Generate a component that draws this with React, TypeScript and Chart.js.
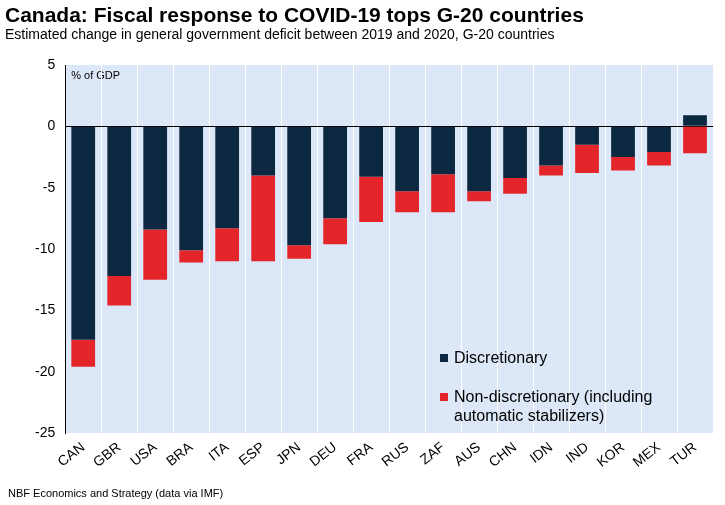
import React, { useEffect, useRef } from "react";
import { Chart, registerables } from "chart.js";
Chart.register(...registerables);

const categories = ["CAN","GBR","USA","BRA","ITA","ESP","JPN","DEU","FRA","RUS","ZAF","AUS","CHN","IDN","IND","KOR","MEX","TUR"];
const discretionary = [-17.4,-12.2,-8.4,-10.1,-8.3,-4.0,-9.7,-7.5,-4.1,-5.3,-3.9,-5.3,-4.2,-3.2,-1.5,-2.5,-2.1,0.9];
const nonDiscretionary = [-2.2,-2.4,-4.1,-1.0,-2.7,-7.0,-1.1,-2.1,-3.7,-1.7,-3.1,-0.8,-1.3,-0.8,-2.3,-1.1,-1.1,-2.2];
const yTicks = [5,0,-5,-10,-15,-20,-25];

const bgPlugin = {
  id: "bg",
  beforeDraw(chart: any) {
    const { ctx, chartArea: a } = chart;
    ctx.save();
    ctx.fillStyle = "#dce7f7";
    ctx.fillRect(a.left, a.top, a.right - a.left, a.bottom - a.top);
    ctx.fillStyle = "#000";
    ctx.font = "11px Arial, 'Liberation Sans'";
    ctx.fillText("% of GDP", a.left + 6, a.top + 14);
    ctx.restore();
  },
};

export default function App() {
  const ref = useRef<HTMLCanvasElement>(null);
  useEffect(() => {
    const chart = new Chart(ref.current!, {
      type: "bar",
      data: {
        labels: categories,
        datasets: [
          { label: "Discretionary", data: discretionary, backgroundColor: "#0c2841", barPercentage: 0.66, categoryPercentage: 1 },
          { label: "Non-discretionary", data: nonDiscretionary, backgroundColor: "#e4262b", barPercentage: 0.66, categoryPercentage: 1 },
        ],
      },
      options: {
        animation: false,
        responsive: false,
        layout: { padding: { top: 65, bottom: 28, right: 12, left: 25 } },
        plugins: { legend: { display: false }, tooltip: { enabled: false } },
        scales: {
          x: {
            stacked: true,
            grid: { display: true, color: "#ffffff", lineWidth: 1, drawTicks: false, offset: true },
            border: { display: false },
            ticks: { color: "#000", font: { size: 14, family: "Arial, 'Liberation Sans'" }, padding: 6 },
          },
          y: {
            stacked: true,
            min: -25, max: 5,
            afterBuildTicks: (ax: any) => { ax.ticks = yTicks.map((v) => ({ value: v })); },
            grid: { color: (c: any) => (c.tick && c.tick.value === 0 ? "#000" : "transparent"), drawTicks: false },
            border: { display: true, color: "#000" },
            ticks: { color: "#000", font: { size: 14, family: "Arial, 'Liberation Sans'" }, padding: 10 },
          },
        },
      },
      plugins: [bgPlugin],
    });
    return () => chart.destroy();
  }, []);
  const font = "Arial, 'Liberation Sans', sans-serif";
  return (
    <div style={{ position: "fixed", left: 0, top: 0, width: 725, height: 505, background: "#fff", fontFamily: font }}>
      <canvas ref={ref} width={725} height={505} style={{ position: "absolute", left: 0, top: 0 }} />
      <div style={{ position: "absolute", left: 5, top: 3, fontSize: 21, fontWeight: "bold" }}>Canada: Fiscal response to COVID-19 tops G-20 countries</div>
      <div style={{ position: "absolute", left: 5, top: 26, fontSize: 14 }}>Estimated change in general government deficit between 2019 and 2020, G-20 countries</div>
      <div style={{ position: "absolute", left: 8, top: 487, fontSize: 11 }}>NBF Economics and Strategy (data via IMF)</div>
      <div style={{ position: "absolute", left: 440, top: 348, fontSize: 16, lineHeight: "19px" }}>
        <div style={{ display: "flex", alignItems: "center" }}><span style={{ width: 8, height: 8, background: "#0c2841", marginRight: 6, display: "inline-block" }} />Discretionary</div>
        <div style={{ display: "flex", marginTop: 20 }}><span style={{ width: 8, height: 8, background: "#e4262b", marginRight: 6, marginTop: 6, display: "inline-block", flexShrink: 0 }} /><span>Non-discretionary (including<br />automatic stabilizers)</span></div>
      </div>
    </div>
  );
}
